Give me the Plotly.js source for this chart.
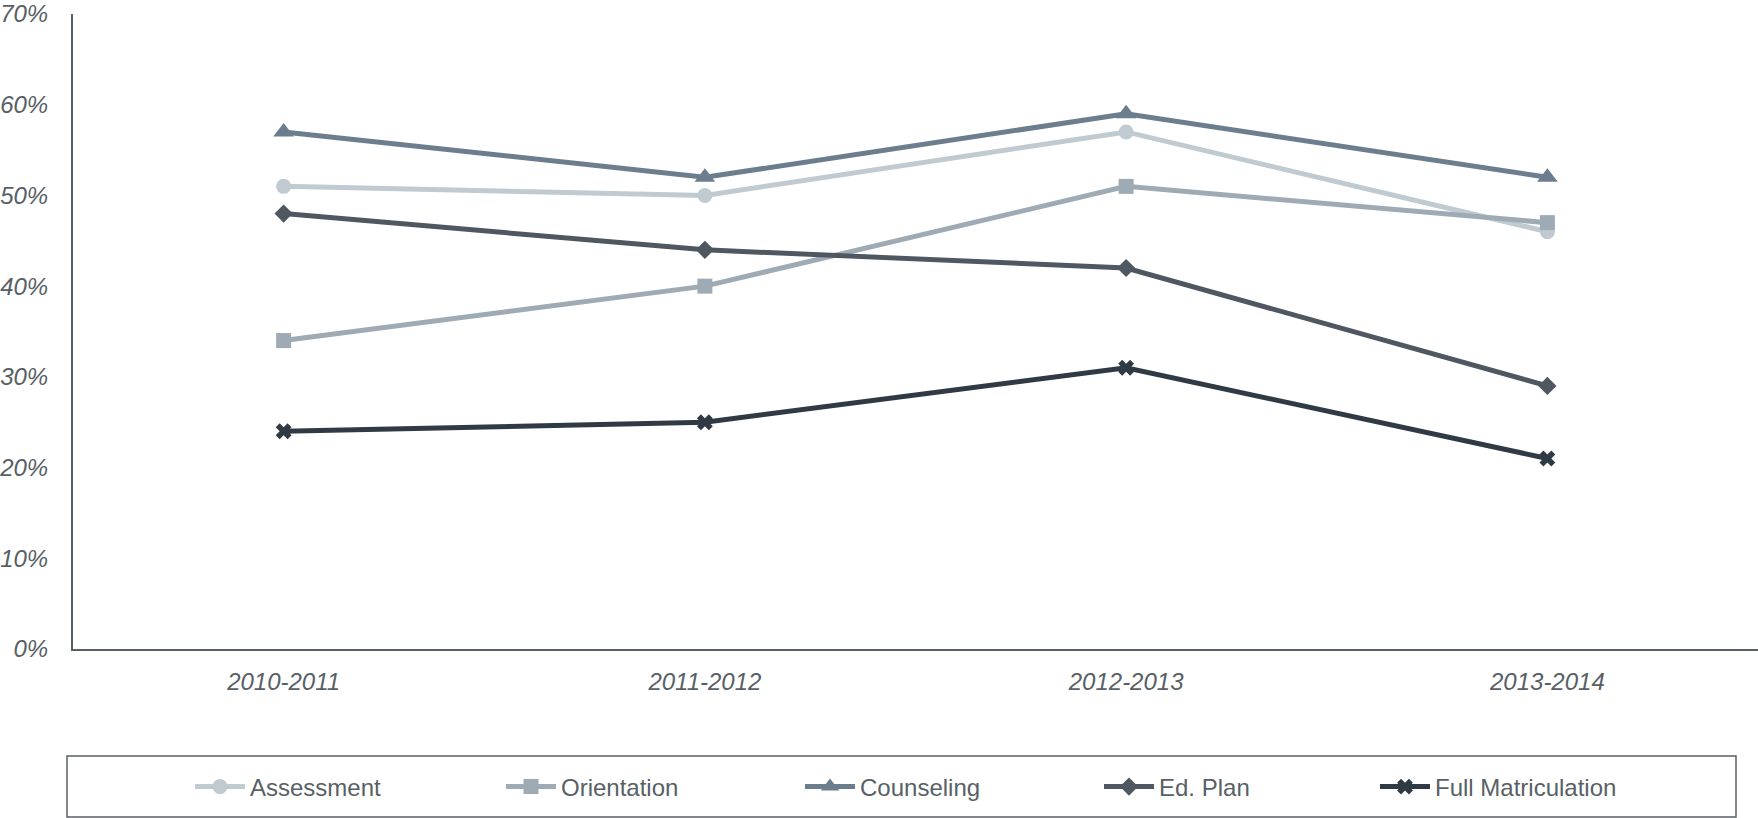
<!DOCTYPE html>
<html>
<head>
<meta charset="utf-8">
<script src="https://cdn.plot.ly/plotly-3.0.1.min.js"></script>
<style>html,body{margin:0;padding:0;background:#fff;}#chart{width:1758px;height:818px;}</style>
</head>
<body>
<div id="chart"></div>
<script>
const years = ["2010-2011", "2011-2012", "2012-2013", "2013-2014"];
const assessment = [51, 50, 57, 46];
const orientation = [34, 40, 51, 47];
const counseling = [57, 52, 59, 52];
const edPlan = [48, 44, 42, 29];
const fullMatriculation = [24, 25, 31, 21];

const seriesNames = ["Assessment", "Orientation", "Counseling", "Ed. Plan", "Full Matriculation"];
const seriesValues = [assessment, orientation, counseling, edPlan, fullMatriculation];
const colors = ["#c0cad1", "#9eabb5", "#6c7e8e", "#4f5761", "#303a45"];
const symbols = ["circle", "square", "triangle-up", "diamond", "x"];
const sizes = [15, 15, 18, 14, 14];
const legendWidths = [246, 234, 234, 211, 240];

const axisColor = "#595f66";
const fontFam = "Liberation Sans, Arial, sans-serif";

const traces = seriesNames.map((name, i) => ({
  type: "scatter",
  mode: "lines+markers",
  name: name,
  x: years,
  y: seriesValues[i],
  legendwidth: legendWidths[i],
  line: {color: colors[i], width: 5},
  marker: {symbol: symbols[i], size: sizes[i], color: colors[i], line: {width: 0}},
  hoverinfo: "x+y+name"
}));

const W = 1758, H = 818, L = 73, R = 0, T = 14, B = 169;
const pw = W - L - R, ph = H - T - B;
const px = v => (v - L) / pw;
const py = v => (H - B - v) / ph;

const layout = {
  width: W, height: H,
  margin: {l: L, r: R, t: T, b: B, pad: 0},
  paper_bgcolor: "#ffffff",
  plot_bgcolor: "#ffffff",
  showlegend: true,
  font: {family: fontFam, color: axisColor},
  xaxis: {
    type: "category",
    range: [-0.5, 3.5],
    showgrid: false,
    zeroline: false,
    showline: true,
    linecolor: axisColor,
    linewidth: 2,
    ticks: "",
    ticklabelstandoff: 10,
    tickfont: {family: fontFam, size: 24, color: axisColor, style: "italic"}
  },
  yaxis: {
    range: [0, 70],
    dtick: 10,
    tick0: 0,
    ticksuffix: "%",
    showgrid: false,
    zeroline: false,
    showline: true,
    linecolor: axisColor,
    linewidth: 2,
    ticks: "",
    ticklabelstandoff: 18,
    tickfont: {family: fontFam, size: 24, color: axisColor, style: "italic"}
  },
  legend: {
    orientation: "h",
    x: px(190),
    xanchor: "left",
    y: py(787),
    yanchor: "middle",
    itemwidth: 50,
    borderwidth: 0,
    bgcolor: "rgba(0,0,0,0)",
    font: {family: fontFam, size: 24, color: axisColor}
  },
  shapes: [{
    type: "rect",
    xref: "paper", yref: "paper",
    x0: px(67), x1: px(1736),
    y0: py(817), y1: py(756),
    line: {color: axisColor, width: 1.5},
    fillcolor: "rgba(0,0,0,0)"
  }]
};

Plotly.newPlot("chart", traces, layout, {displayModeBar: false, staticPlot: true});
</script>
</body>
</html>
